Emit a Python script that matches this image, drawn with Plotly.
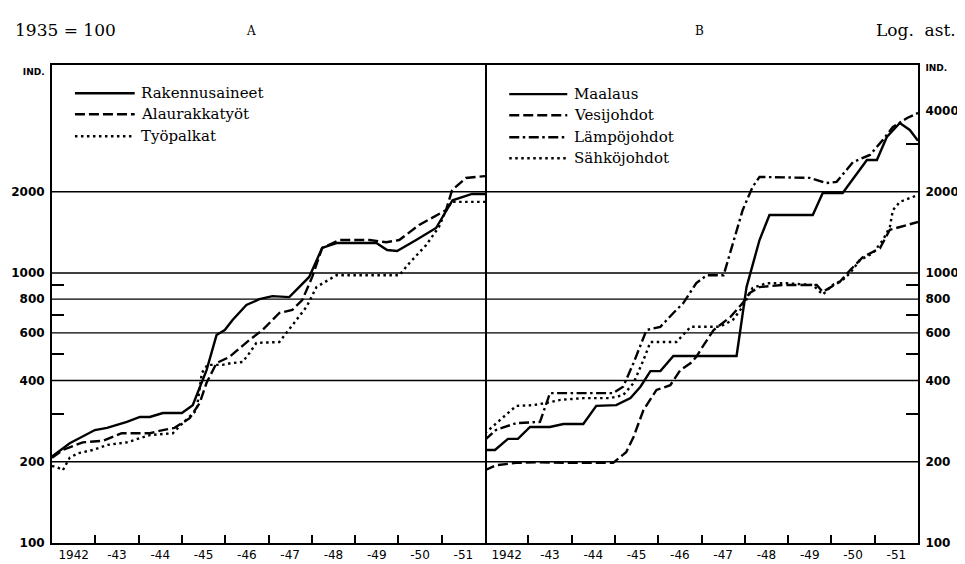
import plotly.graph_objects as go

# ---------------- Data (1935 = 100) ----------------
# Panel A
RAK_YEARS = [1942.00, 1942.41, 1942.99, 1943.27, 1943.73, 1944.03, 1944.26, 1944.56, 1945.00,
             1945.25, 1945.57, 1945.80, 1945.99, 1946.17, 1946.49, 1946.79, 1947.09, 1947.48,
             1947.94, 1948.24, 1948.57, 1949.49, 1949.74, 1949.97, 1950.41, 1950.87, 1951.25,
             1951.70, 1952.00]
RAK = [209, 234, 262, 267, 281, 293, 293, 303, 303,
       324, 437, 589, 615, 670, 761, 800, 821, 814,
       967, 1239, 1291, 1291, 1216, 1207, 1325, 1468, 1860,
       1962, 1962]

ALA_YEARS = [1942.00, 1942.25, 1942.71, 1943.18, 1943.61, 1944.26, 1944.56, 1944.83, 1945.18,
             1945.41, 1945.57, 1945.80, 1946.10, 1946.56, 1946.86, 1947.25, 1947.55, 1947.78,
             1948.01, 1948.24, 1948.64, 1949.33, 1949.72, 1950.02, 1950.48, 1951.10, 1951.24,
             1951.56, 1952.00]
ALA = [207, 221, 236, 239, 255, 255, 262, 267, 290,
       330, 392, 464, 489, 565, 615, 711, 730, 794,
       967, 1239, 1325, 1325, 1300, 1325, 1507, 1709, 2028,
       2248, 2285]

TYO_YEARS = [1942.00, 1942.14, 1942.25, 1942.41, 1942.60, 1942.94, 1943.29, 1943.73, 1944.26,
             1944.79, 1945.02, 1945.18, 1945.34, 1945.46, 1945.59, 1945.94, 1946.15, 1946.40,
             1946.56, 1946.72, 1947.25, 1947.55, 1947.88, 1948.11, 1948.57, 1950.02, 1950.25,
             1950.64, 1950.94, 1951.10, 1951.24, 1952.00]
TYO = [193, 190, 186, 207, 215, 221, 231, 236, 251,
       255, 278, 293, 311, 426, 457, 457, 464, 468,
       505, 551, 555, 640, 750, 888, 981, 981, 1087,
       1268, 1485, 1709, 1834, 1834]

# Panel B
MAA_YEARS = [1942.00, 1942.23, 1942.53, 1942.76, 1943.04, 1943.50, 1943.81, 1944.27, 1944.57,
             1945.03, 1945.36, 1945.59, 1945.82, 1946.05, 1946.35, 1947.81, 1948.04, 1948.34,
             1948.57, 1949.57, 1949.80, 1950.26, 1950.82, 1951.05, 1951.28, 1951.58, 1951.81,
             1952.00]
MAA = [221, 221, 243, 243, 269, 269, 276, 276, 322,
       324, 344, 379, 433, 433, 493, 493, 887, 1325,
       1640, 1640, 1978, 1978, 2623, 2623, 3190, 3594, 3387,
       3090]

VES_YEARS = [1942.00, 1942.25, 1942.72, 1943.18, 1943.97, 1944.96, 1945.26, 1945.43, 1945.66,
             1945.96, 1946.28, 1946.51, 1946.75, 1946.88, 1947.05, 1947.28, 1947.67, 1947.95,
             1948.11, 1948.34, 1948.88, 1949.66, 1949.80, 1950.19, 1950.43, 1950.73, 1951.12,
             1951.35, 1951.75, 1952.00]
VES = [186, 194, 198, 199, 198, 198, 217, 247, 311,
       369, 384, 437, 464, 489, 541, 615, 688, 774,
       843, 887, 903, 903, 851, 926, 1024, 1146, 1235,
       1446, 1506, 1545]

LAM_YEARS = [1942.00, 1942.25, 1942.72, 1943.27, 1943.50, 1944.96, 1945.19, 1945.43, 1945.73,
             1946.05, 1946.35, 1946.58, 1946.88, 1947.12, 1947.51, 1947.72, 1947.95, 1948.18,
             1948.34, 1949.50, 1949.89, 1950.12, 1950.50, 1950.89, 1951.19, 1951.42, 1951.75,
             1952.00]
LAM = [241, 262, 278, 281, 359, 359, 379, 464, 615,
       632, 711, 774, 918, 981, 981, 1270, 1709, 2084,
       2270, 2250, 2154, 2175, 2577, 2737, 3112, 3474, 3750,
       3916]

SAH_YEARS = [1942.00, 1942.35, 1942.72, 1943.11, 1943.41, 1943.74, 1944.27, 1944.89, 1945.19,
             1945.43, 1945.66, 1945.82, 1946.42, 1946.75, 1947.42, 1947.72, 1947.95, 1948.18,
             1948.50, 1948.97, 1949.57, 1949.80, 1950.03, 1950.26, 1950.43, 1950.66, 1950.96,
             1951.19, 1951.35, 1951.42, 1951.58, 1952.00]
SAH = [255, 286, 322, 324, 330, 339, 344, 344, 353,
       391, 476, 555, 555, 632, 632, 669, 750, 880,
       916, 916, 903, 832, 903, 942, 1000, 1117, 1185,
       1325, 1480, 1709, 1834, 1945]

# Axis labels
X_RANGE = [1942, 1952]
YEAR_MIDS = [1942.5, 1943.5, 1944.5, 1945.5, 1946.5, 1947.5, 1948.5, 1949.5, 1950.5, 1951.5]
YEAR_LABELS = ["1942", "-43", "-44", "-45", "-46", "-47", "-48", "-49", "-50", "-51"]
YEAR_BOUNDS = [1943, 1944, 1945, 1946, 1947, 1948, 1949, 1950, 1951]
Y_LEFT = [100, 200, 400, 600, 800, 1000, 2000]
Y_RIGHT = [100, 200, 400, 600, 800, 1000, 2000, 4000]
GRID_VALUES = [200, 400, 600, 800, 1000, 2000]
MINOR_LEFT = [300, 500, 700, 900]
MINOR_RIGHT = [300, 500, 700, 900, 3000]

DASH_SOLID = "solid"
DASH_DASH = "10px,4px"
DASH_DOT = "2.5px,3.5px"
DASH_DASHDOT = "10px,3.5px,2.5px,3.5px"

SERIES_A = [("Rakennusaineet", RAK_YEARS, RAK, DASH_SOLID),
            ("Alaurakkatyöt", ALA_YEARS, ALA, DASH_DASH),
            ("Työpalkat", TYO_YEARS, TYO, DASH_DOT)]
SERIES_B = [("Maalaus", MAA_YEARS, MAA, DASH_SOLID),
            ("Vesijohdot", VES_YEARS, VES, DASH_DASH),
            ("Lämpöjohdot", LAM_YEARS, LAM, DASH_DASHDOT),
            ("Sähköjohdot", SAH_YEARS, SAH, DASH_DOT)]

TOP_LOG = 3.7704

fig = go.Figure()

# horizontal rule lines of the printed grid (one per panel)
for xa, ya in (("x", "y"), ("x2", "y2")):
    for v in GRID_VALUES:
        fig.add_trace(go.Scatter(x=X_RANGE, y=[v, v], mode="lines",
                                 line=dict(color="black", width=1.4),
                                 xaxis=xa, yaxis=ya, hoverinfo="skip", showlegend=False))

for name, xs, ys, dash in SERIES_A:
    fig.add_trace(go.Scatter(x=xs, y=ys, name=name, mode="lines",
                             line=dict(color="black", width=2.4, dash=dash),
                             xaxis="x", yaxis="y", showlegend=False))
for name, xs, ys, dash in SERIES_B:
    fig.add_trace(go.Scatter(x=xs, y=ys, name=name, mode="lines",
                             line=dict(color="black", width=2.4, dash=dash),
                             xaxis="x2", yaxis="y2", showlegend=False))

shapes = []
annotations = []
# legends
leg_rows_a = [0.941, 0.897, 0.851]
for (name, _, _, dash), yy in zip(SERIES_A, leg_rows_a):
    shapes.append(dict(type="line", xref="x domain", yref="y domain",
                       x0=0.053, x1=0.191, y0=yy, y1=yy,
                       line=dict(color="black", width=2.4, dash=dash)))
    annotations.append(dict(text=name, xref="x domain", yref="y domain", x=0.200, y=yy,
                            xanchor="left", yanchor="middle", showarrow=False,
                            font=dict(family="DejaVu Serif", size=15, color="black")))
leg_rows_b = [0.939, 0.895, 0.849, 0.805]
for (name, _, _, dash), yy in zip(SERIES_B, leg_rows_b):
    shapes.append(dict(type="line", xref="x2 domain", yref="y2 domain",
                       x0=0.056, x1=0.190, y0=yy, y1=yy,
                       line=dict(color="black", width=2.4, dash=dash)))
    annotations.append(dict(text=name, xref="x2 domain", yref="y2 domain", x=0.200, y=yy,
                            xanchor="left", yanchor="middle", showarrow=False,
                            font=dict(family="DejaVu Serif", size=15, color="black")))

# header texts
annotations += [
    dict(text="1935 = 100", xref="paper", yref="paper", x=-0.045, y=1.073,
         xanchor="left", yanchor="middle", showarrow=False,
         font=dict(family="DejaVu Serif", size=17, color="black")),
    dict(text="A", xref="paper", yref="paper", x=0.2298, y=1.071,
         xanchor="center", yanchor="middle", showarrow=False,
         font=dict(family="DejaVu Serif", size=12, color="black")),
    dict(text="B", xref="paper", yref="paper", x=0.748, y=1.071,
         xanchor="center", yanchor="middle", showarrow=False,
         font=dict(family="DejaVu Serif", size=12, color="black")),
    dict(text="Log.  ast.", xref="paper", yref="paper", x=1.046, y=1.073,
         xanchor="right", yanchor="middle", showarrow=False,
         font=dict(family="DejaVu Serif", size=17, color="black")),
]

IND = "<span style='font-size:9px'>IND.</span>"
tickfont = dict(family="DejaVu Sans", size=12, color="black", weight="bold")
xfont = dict(family="DejaVu Sans", size=12, color="black")

common_x = dict(range=X_RANGE, tickmode="array", tickvals=YEAR_MIDS, ticktext=YEAR_LABELS,
                ticks="", showline=True, linewidth=2, linecolor="black", mirror=True,
                showgrid=False, zeroline=False, tickfont=xfont, automargin=False,
                minor=dict(tickmode="array", tickvals=YEAR_BOUNDS, ticks="inside", ticklen=8,
                           tickwidth=1.5, tickcolor="black", showgrid=False))
common_y = dict(type="log", range=[2, TOP_LOG], ticks="", showline=True, linewidth=2,
                linecolor="black", showgrid=False, zeroline=False, automargin=False,
                tickfont=tickfont, ticklabelstandoff=3)

# The page body has an 8px default margin, so the figure is sized to fill the rest.
fig.update_layout(
    width=957, height=556,
    margin=dict(l=44, r=47, t=57, b=21, pad=0),
    paper_bgcolor="white", plot_bgcolor="white",
    showlegend=False,
    xaxis=dict(domain=[0, 0.5], anchor="y", **common_x),
    xaxis2=dict(domain=[0.5, 1], anchor="y2", **common_x),
    yaxis=dict(anchor="x", side="left", tickmode="array", mirror=True,
               tickvals=Y_LEFT + [5600], ticktext=[str(v) for v in Y_LEFT] + [IND],
               minor=dict(tickmode="array", tickvals=MINOR_LEFT, ticks="inside", ticklen=12,
                          tickwidth=1.5, tickcolor="black", showgrid=False),
               **common_y),
    yaxis2=dict(anchor="x2", side="right", tickmode="array", mirror=False,
                tickvals=Y_RIGHT + [5800], ticktext=[str(v) for v in Y_RIGHT] + [IND],
                minor=dict(tickmode="array", tickvals=MINOR_RIGHT, ticks="inside", ticklen=12,
                           tickwidth=1.5, tickcolor="black", showgrid=False),
                **common_y),
    shapes=shapes,
    annotations=annotations,
)

fig.write_html("out.html")
